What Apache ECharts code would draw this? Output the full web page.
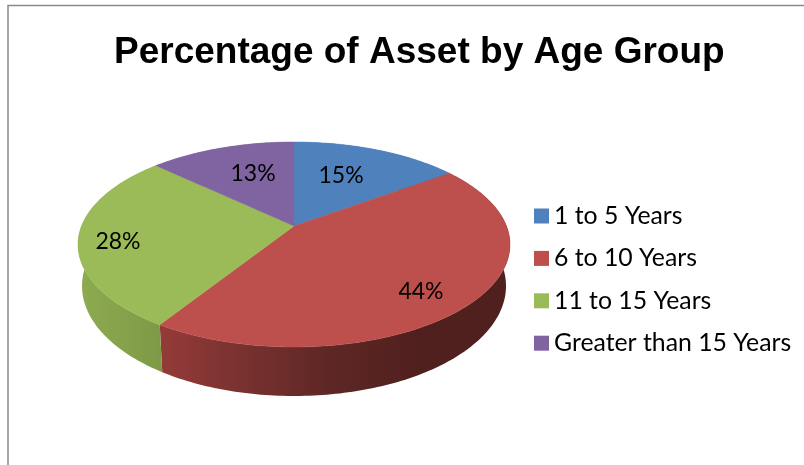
<!DOCTYPE html>
<html><head><meta charset="utf-8">
<style>html,body{margin:0;padding:0;background:#fff}#c{width:804px;height:465px}</style>
<script src="https://cdn.jsdelivr.net/npm/echarts@6/dist/echarts.min.js"></script>
</head><body><div id="c"></div>
<script>
const categories = ['1 to 5 Years', '6 to 10 Years', '11 to 15 Years', 'Greater than 15 Years'];
const shares = [15, 44, 28, 13];
const titleText = 'Percentage of Asset by Age Group';
const colors = ['#4f81bd', '#bd4f4c', '#9bbb59', '#8064a2'];
const labelRadius = [0.617, 0.793, 0.82, 0.63];
const labelTurn = [-3.7, 4.4, -3.1, 3.6];

const topDisc = {cx: 294, cy: 244.5, rx: 216, ry: 102.5};
const baseDisc = {cx: 294, cy: 286, rx: 212, ry: 110};
const tilt = -0.18;
const squeeze = Math.sqrt(1 - tilt * tilt);
const total = shares.reduce((a, b) => a + b, 0);

function project(disc, deg, f) {
  const t = deg * Math.PI / 180;
  const x = f * Math.sin(t), y = -f * Math.cos(t);
  const d = 1 + tilt * y;
  return [disc.cx + disc.rx * x * squeeze / d, disc.cy + disc.ry * (y + tilt) / d];
}
function arc(disc, a, b) {
  const pts = [];
  const n = Math.max(2, Math.ceil(Math.abs(b - a)));
  for (let i = 0; i <= n; i++) pts.push(project(disc, a + (b - a) * i / n, 1));
  return pts;
}
function wallFill(i) {
  if (i === 1) return new echarts.graphic.LinearGradient(160, 0, 420, 0, [
    {offset: 0, color: '#943b39'}, {offset: 0.3, color: '#7a3230'},
    {offset: 0.65, color: '#5e2725'}, {offset: 1, color: '#50201e'}], true);
  if (i === 2) return new echarts.graphic.LinearGradient(80, 0, 160, 0, [
    {offset: 0, color: '#8dab50'}, {offset: 1, color: '#7f9a47'}], true);
  return colors[i];
}
function renderSlice(i) {
  return function (params, api) {
    const before = shares.slice(0, i).reduce((a, b) => a + b, 0);
    const value = api.value(0);
    const a = before / total * 360, b = (before + value) / total * 360;
    const topArc = arc(topDisc, a, b);
    const mid = (a + b) / 2 + labelTurn[i];
    const lp = project(topDisc, mid, labelRadius[i]);
    return {type: 'group', children: [
      {type: 'polygon', z2: 1, shape: {points: topArc.concat(arc(baseDisc, a, b).reverse())},
        style: {fill: wallFill(i)}},
      {type: 'polygon', z2: 5, shape: {points: [project(topDisc, 0, 0)].concat(topArc)},
        style: {fill: colors[i], stroke: colors[i], lineWidth: 0.5}},
      {type: 'text', z2: 10, style: {x: lp[0], y: lp[1] + 0.7, text: value + '%', fill: '#000',
        font: '23px Lato', align: 'center', verticalAlign: 'middle'}}
    ]};
  };
}
const chart = echarts.init(document.getElementById('c'), null, {renderer: 'canvas'});
chart.setOption({
  animation: false,
  color: colors,
  title: {text: titleText, left: 109, top: 29,
    textStyle: {fontFamily: 'Liberation Sans', fontWeight: 'bold', fontSize: 37, color: '#000'}},
  legend: {orient: 'vertical', left: 529, top: 198.5, itemWidth: 15, itemHeight: 15, itemGap: 17.4,
    icon: 'rect', data: categories,
    textStyle: {fontFamily: 'Lato', fontSize: 24.8, color: '#000', lineHeight: 24}},
  graphic: [{type: 'rect', z: -1, shape: {x: 8, y: 5.6, width: 900, height: 600},
    style: {fill: '#fff', stroke: '#8a8a8a', lineWidth: 1.5}}],
  series: categories.map((name, i) => ({
    type: 'custom', name, coordinateSystem: 'none', silent: true,
    itemStyle: {color: colors[i]}, renderItem: renderSlice(i), data: [[shares[i]]]
  }))
});
</script></body></html>
